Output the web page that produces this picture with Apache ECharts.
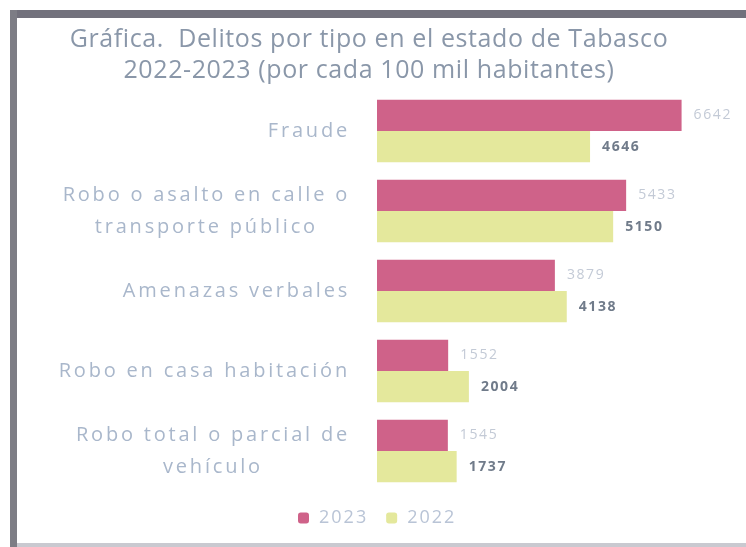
<!DOCTYPE html>
<html>
<head>
<meta charset="utf-8">
<script src="https://cdn.jsdelivr.net/npm/echarts@6/dist/echarts.min.js"></script>
<style>
  html, body { margin: 0; padding: 0; background: #fff; }
  #chart { width: 746px; height: 547px; }
</style>
</head>
<body>
<div id="chart"></div>
<script>
// delitos por tipo, Tabasco
const categorias = [
  'Fraude',
  'Robo o asalto en calle o\ntransporte público',
  'Amenazas verbales',
  'Robo en casa habitación',
  'Robo total o parcial de\nvehículo'
];
const valores2023 = [6642, 5433, 3879, 1552, 1545];
const valores2022 = [4646, 5150, 4138, 2004, 1737];

// el original tiene el texto muy espaciado: espaciado por tamaño de letra
const espaciado = { 25: 0.6, 20: 2.8, 18: 2, 14: 1.6 };
(function () {
  const proto = CanvasRenderingContext2D.prototype;
  if (!('letterSpacing' in proto)) return;
  const fijar = function (ctx) {
    const m = /(\d+(?:\.\d+)?)px/.exec(ctx.font || '');
    const s = m ? espaciado[Math.round(+m[1])] : 0;
    ctx.letterSpacing = (s || 0) + 'px';
  };
  ['fillText', 'strokeText', 'measureText'].forEach(function (k) {
    const orig = proto[k];
    proto[k] = function () {
      fijar(this);
      return orig.apply(this, arguments);
    };
  });
})();

const myChart = echarts.init(document.getElementById('chart'));

const option = {
  backgroundColor: '#ffffff',
  animation: false,
  title: {
    text: 'Gráfica.  Delitos por tipo en el estado de Tabasco\n2022-2023 (por cada 100 mil habitantes)',
    left: 364,
    top: 19,
    textAlign: 'center',
    textStyle: {
      fontFamily: 'Open Sans',
      fontWeight: 'normal',
      fontSize: 25,
      lineHeight: 31,
      color: '#8a97a9'
    }
  },
  legend: {
    top: 503,
    left: 293,
    itemWidth: 11,
    itemHeight: 11,
    itemGap: 18,
    textStyle: {
      fontFamily: 'Open Sans',
      fontSize: 18,
      color: '#b9c4d6',
      padding: [0, 0, 0, 5]
    },
    data: ['2023', '2022']
  },
  grid: {
    left: 377,
    top: 91,
    width: 321,
    height: 400
  },
  xAxis: {
    type: 'value',
    min: 0,
    max: 7000,
    show: false
  },
  yAxis: {
    type: 'category',
    inverse: true,
    data: categorias,
    axisLine: { show: false },
    axisTick: { show: false },
    axisLabel: {
      margin: 27,
      fontFamily: 'Open Sans',
      fontSize: 20,
      color: '#a9b7cb',
      lineHeight: 32,
      formatter: function (v) {
        // cada renglón centrado
        return v.split('\n').map(function (l) { return '{c|' + l + '}'; }).join('\n');
      },
      rich: {
        c: {
          align: 'center',
          fontFamily: 'Open Sans',
          fontSize: 20,
          lineHeight: 32,
          color: '#a9b7cb'
        }
      }
    }
  },
  series: [
    {
      name: '2023',
      type: 'bar',
      barGap: '0%',
      barCategoryGap: '22%',
      itemStyle: { color: '#cf6289' },
      label: {
        show: true,
        position: 'right',
        distance: 12,
        fontFamily: 'Open Sans',
        fontSize: 14,
        color: '#c3cad6'
      },
      data: valores2023
    },
    {
      name: '2022',
      type: 'bar',
      itemStyle: { color: '#e4e89c' },
      label: {
        show: true,
        position: 'right',
        distance: 12,
        fontFamily: 'Open Sans',
        fontWeight: 'bold',
        fontSize: 14,
        color: '#707b8a'
      },
      data: valores2022
    }
  ],
  graphic: [
    // marco de la foto
    { type: 'rect', shape: { x: 10, y: 10, width: 736, height: 8 }, style: { fill: '#72717c' } },
    { type: 'rect', shape: { x: 10, y: 10, width: 7, height: 537 }, style: { fill: '#7d7d85' } },
    { type: 'rect', shape: { x: 17, y: 543, width: 729, height: 4 }, style: { fill: '#c9c9d0' } }
  ]
};

myChart.setOption(option);
window.addEventListener('resize', () => {
  myChart.resize();
});
</script>
</body>
</html>
